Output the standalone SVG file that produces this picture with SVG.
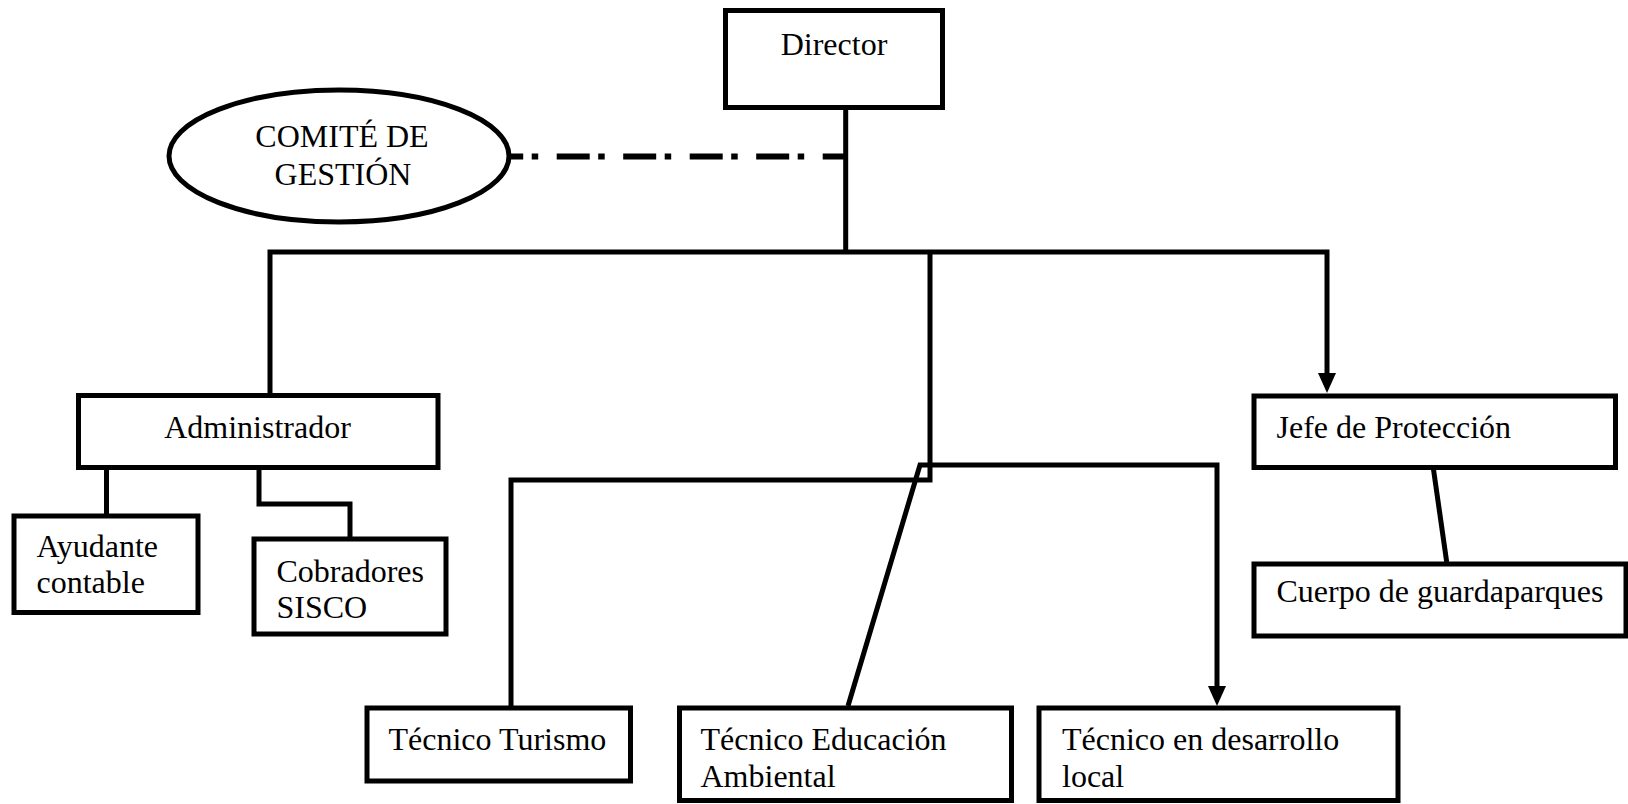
<svg xmlns="http://www.w3.org/2000/svg" width="1628" height="804" viewBox="0 0 1628 804">
<style>
.box{fill:#fff;stroke:#000;stroke-width:5}
.lbl{font-family:"Liberation Serif","Times New Roman",serif;font-size:32px;fill:#000}
.c{text-anchor:middle}
.conn{fill:none;stroke:#000;stroke-width:5}
.dash{fill:none;stroke:#000;stroke-width:6;stroke-dasharray:33 18.5 6.5 8.5;stroke-dashoffset:10}
</style>
<defs>
<marker id="arr" markerUnits="userSpaceOnUse" markerWidth="20" markerHeight="18" refX="0" refY="9" orient="auto" viewBox="0 0 20 18">
<path d="M0,0 L20,9 L0,18 z" fill="#000"/>
</marker>
</defs>
<g id="connectors">
<path class="conn" d="M845.7,107 V252"/>
<path class="dash" d="M845.7,156.5 H511"/>
<path class="conn" d="M270,395 V252 H1327 V373" marker-end="url(#arr)"/>
<path class="conn" d="M930,252 V480 H511 V706"/>
<path class="conn" d="M848,706 L920,465 H1217 V686" marker-end="url(#arr)"/>
<path class="conn" d="M106.5,514 V465 H259 V504 H350 V537"/>
<path class="conn" d="M1433.3,468 L1446.7,562"/>
</g>
<g id="director">
<rect class="box" x="725.5" y="10.5" width="217" height="97"/>
<text class="lbl c" x="834" y="55">Director</text>
</g>
<g id="comite">
<ellipse class="box" cx="339" cy="156" rx="170" ry="66"/>
<text class="lbl c" x="342" y="146.5">COMITÉ DE</text>
<text class="lbl c" x="343" y="185">GESTIÓN</text>
</g>
<g id="administrador">
<rect class="box" x="78.5" y="395.5" width="359.5" height="72"/>
<text class="lbl c" x="257.5" y="438">Administrador</text>
</g>
<g id="ayudante">
<rect class="box" x="14" y="516" width="184" height="96.5"/>
<text class="lbl" x="36.5" y="556.5">Ayudante</text>
<text class="lbl" x="36.5" y="593">contable</text>
</g>
<g id="cobradores">
<rect class="box" x="254" y="539" width="192" height="95"/>
<text class="lbl" x="276.5" y="581.5">Cobradores</text>
<text class="lbl" x="276.5" y="618">SISCO</text>
</g>
<g id="jefe">
<rect class="box" x="1254" y="396" width="361.5" height="71.5"/>
<text class="lbl" x="1276.5" y="438">Jefe de Protección</text>
</g>
<g id="cuerpo">
<rect class="box" x="1254" y="564" width="372" height="72"/>
<text class="lbl" x="1276.5" y="601.5">Cuerpo de guardaparques</text>
</g>
<g id="turismo">
<rect class="box" x="367" y="708" width="263.5" height="73"/>
<text class="lbl" x="388.5" y="750">Técnico Turismo</text>
</g>
<g id="educacion">
<rect class="box" x="679.5" y="708" width="332" height="92.5"/>
<text class="lbl" x="700.5" y="750">Técnico Educación</text>
<text class="lbl" x="700.5" y="786.5">Ambiental</text>
</g>
<g id="desarrollo">
<rect class="box" x="1039" y="708" width="359" height="92.5"/>
<text class="lbl" x="1062" y="750">Técnico en desarrollo</text>
<text class="lbl" x="1062" y="786.5">local</text>
</g>
</svg>
